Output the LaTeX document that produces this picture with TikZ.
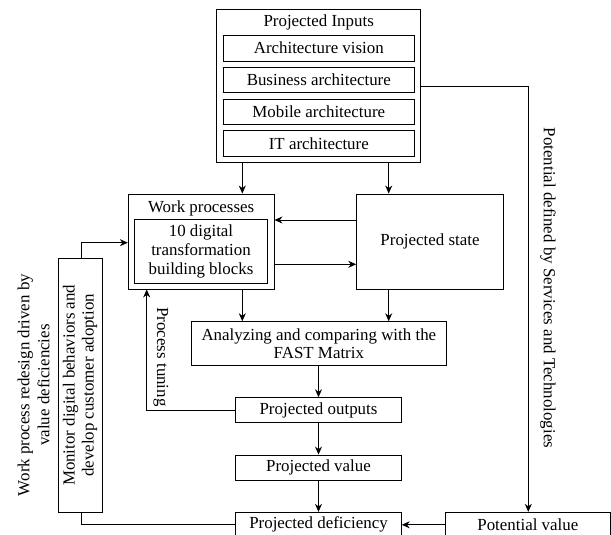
\documentclass[tikz,border=0pt]{standalone}
\usepackage{fontspec}
\setmainfont{Liberation Serif}
\usetikzlibrary{arrows.meta}
\begin{document}
\begin{tikzpicture}[x=1pt,y=-1pt,
  font=\fontsize{16.9}{19}\selectfont,
  box/.style={draw,line width=0.9pt,inner sep=0pt,align=center},
  arr/.style={line width=0.9pt,-{Stealth[length=8pt,width=7pt]}},
  ln/.style={line width=0.9pt},
  lbl/.style={inner sep=0pt,align=center}]
\useasboundingbox (0,0) rectangle (611,535);
% Projected inputs
\node[box,minimum width=204,minimum height=153.2] (inputs) at (318.7,86.1) {};
\node[lbl] (inputsT) at (318.7,22) {Projected Inputs};
\node[box,minimum width=191,minimum height=26] (av) at (318.8,48) {Architecture vision};
\node[box,minimum width=191,minimum height=25] (ba) at (318.8,79.8) {Business architecture};
\node[box,minimum width=191,minimum height=25] (ma) at (318.8,111.5) {Mobile architecture};
\node[box,minimum width=191,minimum height=25.3] (it) at (318.8,143.3) {IT architecture};
% Work processes
\node[box,minimum width=145.7,minimum height=95] (wp) at (201.15,241.5) {};
\node[lbl] (wpT) at (201.15,208) {Work processes};
\node[box,minimum width=133.4,minimum height=63.6,font=\fontsize{16.9}{18.7}\selectfont] (wpi) at (201,251.5) {10 digital\\transformation\\building blocks};
% Projected state
\node[box,minimum width=146.6,minimum height=95] (ps) at (430,241.5) {Projected state};
% Analyzing
\node[box,minimum width=254.3,minimum height=43.3,font=\fontsize{16.9}{18}\selectfont] (an) at (318.85,343.35) {Analyzing and comparing with the\\FAST Matrix};
% Chain
\node[box,minimum width=165.6,minimum height=25] (po) at (318.5,410.2) {Projected outputs};
\node[box,minimum width=165.6,minimum height=25] (pv) at (318.5,467.5) {Projected value};
\node[box,minimum width=165.6,minimum height=25] (pd) at (318.5,524.8) {Projected deficiency};
\node[box,minimum width=164.3,minimum height=25] (pot) at (527.85,524.8) {Potential value};
% Monitor
\node[box,minimum width=44,minimum height=254] (mon) at (80.3,385.3) {\rotatebox{90}{\begin{tabular}{@{}c@{}}Monitor digital behaviors and\\develop customer adoption\end{tabular}}};
% Labels
\node[lbl,rotate=-90] (tuneL) at (161,357) {Process tuning};
\node[lbl,rotate=90,font=\fontsize{16.9}{20}\selectfont] (redesL) at (33.5,385) {Work process redesign driven by\\value deficiencies};
\node[lbl,rotate=-90] (potL) at (548,288) {Potential defined by Services and Technologies};
% helper coordinates
\coordinate (xL) at (242.3,0);
\coordinate (xR) at (388.7,0);
\coordinate (xT) at (146.7,0);
\coordinate (xM) at (81.7,0);
\coordinate (xP) at (528.3,0);
\coordinate (yA) at (0,220);
\coordinate (yB) at (0,264.3);
\coordinate (yC) at (0,242.7);
\coordinate (yD) at (0,86);
% Arrows
\draw[arr] (inputs.south -| xL) -- (wp.north -| xL);
\draw[arr] (inputs.south -| xR) -- (ps.north -| xR);
\draw[arr] (ps.west |- yA) -- (wp.east |- yA);
\draw[arr] (wp.east |- yB) -- (ps.west |- yB);
\draw[arr] (wp.south -| xL) -- (an.north -| xL);
\draw[arr] (ps.south -| xR) -- (an.north -| xR);
\draw[arr] (an.south -| po.north) -- (po.north);
\draw[arr] (po) -- (pv);
\draw[arr] (pv) -- (pd);
\draw[arr] (pot) -- (pd);
\draw[arr] (po.west) -| (wp.south -| xT);
\draw[arr] (mon.north -| xM) |- (wp.west |- yC);
\draw[ln] (pd.west) -| (mon.south -| xM);
\draw[arr] (inputs.east |- yD) -| (pot.north -| xP);
\end{tikzpicture}
\end{document}
